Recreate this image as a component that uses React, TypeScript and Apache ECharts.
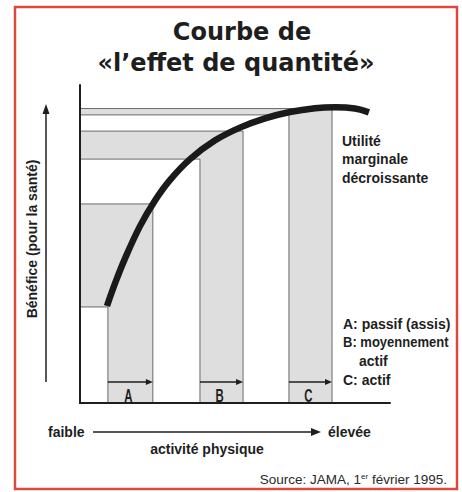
import React, { useEffect, useRef } from "react";
import * as echarts from "echarts";

// Activity bars (x units) and benefit levels (y units)
const barNames = ["A", "B", "C"];
const barStart = [9.0, 38.7, 67.4];
const barEnd = [23.5, 52.6, 81.3];
const bandLow = [30.2, 76.7, 90.6];
const barTop = [62.6, 85.5, 92.6];

// Benefit curve (activité physique -> bénéfice)
const curveX = [8.7, 11.3, 14.5, 19.4, 24.2, 29.0, 35.5, 43.6, 51.6, 59.7, 67.7, 75.8, 82.3, 88.7, 93.2];
const curveY = [30.5, 37.6, 45.4, 55.7, 63.7, 70.1, 76.7, 82.6, 86.6, 89.5, 91.5, 92.7, 93.0, 92.6, 91.4];

const titleLines = ["Courbe de", "«l’effet de quantité»"];
const yTitle = "Bénéfice (pour la santé)";
const xLow = "faible";
const xHigh = "élevée";
const xTitle = "activité physique";
const noteTop = "Utilité\nmarginale\ndécroissante";
const legendLines = ["A: passif (assis)", "B: moyennement", "actif", "C: actif"];

const INK = "#1e1e1e";
const SANS = '"Liberation Sans", Arial, sans-serif';

export default function App() {
  const ref = useRef<HTMLDivElement>(null);
  useEffect(() => {
    document.body.style.margin = "0";
    const chart = echarts.init(ref.current!, null, { renderer: "svg" });
    const stepData = barNames.map((_, i) => [barStart[i], barEnd[i], bandLow[i], barTop[i]]);
    const curveData = curveX.map((x, i) => [x, curveY[i]]);

    const renderStep = (params: any, api: any) => {
      const x0 = api.value(0), x1 = api.value(1), lo = api.value(2), hi = api.value(3);
      const p = (x: number, y: number) => api.coord([x, y]);
      const A = p(0, hi), B = p(x1, hi), C = p(x1, 0), D = p(x0, 0), E = p(x0, lo), F = p(0, lo);
      const ay = D[1] - 21;
      const edge = { stroke: "#6a6a6a", lineWidth: 1, fill: null };
      return {
        type: "group",
        children: [
          { type: "polygon", shape: { points: [A, B, C, D, E, F] }, style: { fill: "#dedede", stroke: null } },
          { type: "polyline", shape: { points: [A, B, C] }, style: edge },
          { type: "polyline", shape: { points: [D, E, F] }, style: edge },
          { type: "line", shape: { x1: D[0], y1: ay, x2: C[0] - 5, y2: ay }, style: { stroke: INK, lineWidth: 1.3 } },
          { type: "polygon", shape: { points: [[C[0], ay], [C[0] - 7, ay - 3], [C[0] - 7, ay + 3]] }, style: { fill: INK } },
          {
            type: "text",
            x: (D[0] + C[0]) / 2 - 2,
            y: D[1] - 8,
            scaleX: 0.6,
            style: {
              text: barNames[params.dataIndex],
              fill: INK,
              fontSize: 19,
              fontWeight: "bold",
              fontFamily: SANS,
              align: "center",
              verticalAlign: "middle",
              textAlign: "center",
              textVerticalAlign: "middle",
            },
          },
        ],
      };
    };

    const txt = (x: number, y: number, text: string, size: number, extra: any = {}, scaleX = 1) => ({
      type: "text",
      x,
      y,
      scaleX,
      style: {
        text,
        fill: INK,
        fontSize: size,
        fontWeight: "bold",
        fontFamily: SANS,
        align: "left",
        verticalAlign: "middle",
        textAlign: "left",
        textVerticalAlign: "middle",
        ...extra,
      },
    });

    chart.setOption({
      animation: false,
      backgroundColor: "#ffffff",
      grid: { left: 80, top: 85, width: 310, height: 318 },
      xAxis: {
        type: "value", min: 0, max: 100, z: 10,
        axisLine: { show: true, lineStyle: { color: INK, width: 2 } },
        axisTick: { show: false }, axisLabel: { show: false }, splitLine: { show: false },
      },
      yAxis: {
        type: "value", min: 0, max: 100, z: 10,
        axisLine: { show: true, lineStyle: { color: INK, width: 2 } },
        axisTick: { show: false }, axisLabel: { show: false }, splitLine: { show: false },
      },
      series: [
        { type: "custom", renderItem: renderStep, data: stepData, z: 2, silent: true },
        {
          type: "line", data: curveData, smooth: 0.4, showSymbol: false, z: 5,
          lineStyle: { color: "#1a1a1a", width: 6.5, cap: "butt" },
        },
      ],
      graphic: [
        { type: "rect", shape: { x: 15, y: 7, width: 442, height: 482 }, style: { fill: null, stroke: "#d9493c", lineWidth: 2.5 } },
        txt(242, 32, titleLines[0], 24, { fontFamily: '"DejaVu Sans", sans-serif', align: "center", textAlign: "center" }),
        txt(236, 63, titleLines[1], 24, { fontFamily: '"DejaVu Sans", sans-serif', align: "center", textAlign: "center" }),
        { type: "text", x: 32, y: 239, rotation: Math.PI / 2, style: { text: yTitle, fill: INK, fontSize: 14, fontWeight: "bold", fontFamily: SANS, align: "center", verticalAlign: "middle", textAlign: "center", textVerticalAlign: "middle" } },
        { type: "line", shape: { x1: 46, y1: 382, x2: 46, y2: 111 }, style: { stroke: INK, lineWidth: 1.5 } },
        { type: "polygon", shape: { points: [[46, 104], [42.5, 114], [49.5, 114]] }, style: { fill: INK } },
        txt(48, 432, xLow, 14),
        { type: "line", shape: { x1: 93, y1: 432, x2: 313, y2: 432 }, style: { stroke: INK, lineWidth: 1.5 } },
        { type: "polygon", shape: { points: [[321, 432], [311, 428], [311, 436]] }, style: { fill: INK } },
        txt(328, 432, xHigh, 14),
        txt(207, 449, xTitle, 14, { align: "center", textAlign: "center" }),
        txt(342, 159, noteTop, 14, { lineHeight: 18.5 }),
        txt(343, 324, legendLines[0], 14),
        txt(343, 342.5, legendLines[1], 14, {}, 0.93),
        txt(359, 361, legendLines[2], 14),
        txt(343, 380, legendLines[3], 14),
        {
          type: "text", x: 447, y: 479,
          style: {
            text: "Source: JAMA, 1{sup|er} février 1995.",
            fill: "#2a2a2a", fontSize: 13.5, fontFamily: SANS,
            align: "right", verticalAlign: "middle", textAlign: "right", textVerticalAlign: "middle",
            rich: { sup: { fontSize: 8, fontFamily: SANS, fill: "#2a2a2a", verticalAlign: "top" } },
          },
        },
      ],
    });
    return () => chart.dispose();
  }, []);
  return <div ref={ref} style={{ width: 462, height: 492 }} />;
}
